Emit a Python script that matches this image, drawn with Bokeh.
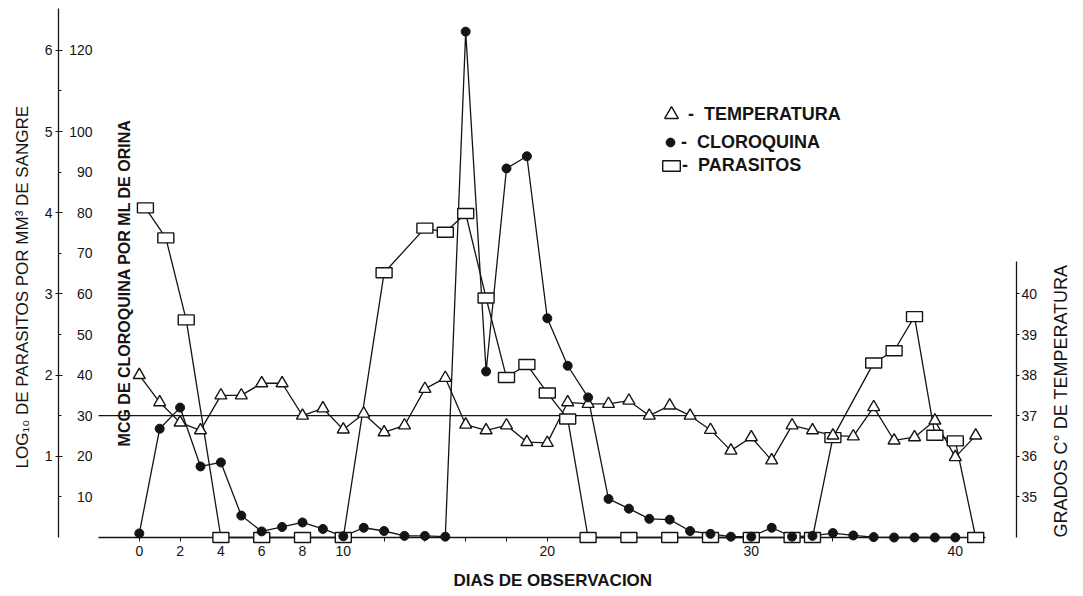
import math
from bokeh.plotting import figure
from bokeh.models import Range1d, LinearAxis, FixedTicker, Label, Legend, LegendItem
from bokeh.embed import file_html
from bokeh.resources import INLINE

# ---------------- data ----------------
temp_days = list(range(0, 42))
temperature = [38.0, 37.33, 36.83, 36.64, 37.5, 37.5, 37.8, 37.8, 37.0, 37.18,
               36.66, 37.05, 36.59, 36.76, 37.66, 37.93, 36.78, 36.64, 36.76, 36.35,
               36.33, 37.33, 37.29, 37.29, 37.37, 37.0, 37.25, 37.0, 36.65, 36.14,
               36.47, 35.9, 36.76, 36.64, 36.51, 36.49, 37.21, 36.39, 36.47, 36.88,
               35.98, 36.51]

chloro_days = list(range(0, 41))
chloroquine = [1.0, 26.8, 32.0, 17.5, 18.5, 5.4, 1.5, 2.6, 3.7, 2.1,
               0.3, 2.4, 1.6, 0.4, 0.4, 0.2, 124.6, 40.9, 90.9, 93.9,
               54.0, 42.3, 34.5, 9.5, 7.1, 4.6, 4.4, 1.6, 0.9, 0.2,
               0.2, 2.4, 0.2, 0.4, 1.1, 0.5, 0.1, 0.0, 0.0, 0.0, 0.0]

par_days = [0.3, 1.3, 2.3, 4, 6, 8, 10, 12, 14, 15, 16, 17, 18, 19, 20, 21, 22,
            24, 26, 28, 30, 32, 33, 34, 36, 37, 38, 39, 40, 41]
parasites_log = [4.06, 3.69, 2.68, 0, 0, 0, 0, 3.26, 3.81, 3.76, 3.99, 2.95, 1.97,
                 2.13, 1.78, 1.46, 0, 0, 0, 0, 0, 0, 0, 1.23, 2.15, 2.30, 2.72,
                 1.26, 1.19, 0]

x_ticks_labeled = [0, 2, 4, 6, 8, 10, 20, 30, 40]
x_ticks_minor = [12, 14, 16, 18, 22, 24, 26, 28, 32, 34, 36, 38]
chloro_ticks = [10, 20, 30, 40, 50, 60, 70, 80, 90, 100, 120]
log_ticks = [1, 2, 3, 4, 5, 6]
log_minor_ticks = [0.5, 1.5, 2.5, 3.5, 4.5, 5.5]
temp_ticks = [35, 36, 37, 38, 39, 40]
normal_temp = 37

# ---------------- scales ----------------
CHLORO_MAX = 130.3          # top of the frame in µg/ml
CHLORO_PER_LOG = 20.0        # 1 log10 unit == 20 µg/ml on the drawing
CHLORO_PER_DEG = 10.0        # 1 °C == 10 µg/ml, 34 °C at the base line
TEMP_BASE = 34.0
X_START, X_END = -2.0, 43.0
AXIS_END = 41.5
REF_END = 41.8

FONT = "Liberation Sans"
INK = "#141414"

p = figure(frame_width=918, frame_height=529,
           x_range=Range1d(X_START, X_END), y_range=Range1d(0, CHLORO_MAX),
           x_axis_type=None, y_axis_type=None,
           output_backend="svg", toolbar_location=None,
           min_border_left=89, min_border_right=60, min_border_top=8, min_border_bottom=50,
           background_fill_color="white", border_fill_color="white")
p.outline_line_color = None
p.xgrid.visible = False
p.ygrid.visible = False
p.extra_y_ranges = {
    "log": Range1d(0, CHLORO_MAX / CHLORO_PER_LOG),
    "temp": Range1d(TEMP_BASE, TEMP_BASE + CHLORO_MAX / CHLORO_PER_DEG),
}

def style_axis(ax, size="14px"):
    ax.major_label_text_font = FONT
    ax.major_label_text_font_size = size
    ax.major_label_text_color = INK
    ax.axis_label_text_font = FONT
    ax.axis_label_text_color = INK
    ax.axis_line_color = INK
    ax.major_tick_line_color = INK
    ax.minor_tick_line_color = INK
    ax.axis_line_width = 1.3

def blank_ticks(ax):
    ax.axis_line_color = None
    ax.major_tick_line_color = None
    ax.minor_tick_line_color = None
    ax.major_tick_in = 0
    ax.major_tick_out = 0
    ax.minor_tick_in = 0
    ax.minor_tick_out = 0

# inner left axis: chloroquine labels only
ax_chl = LinearAxis(ticker=FixedTicker(ticks=chloro_ticks))
style_axis(ax_chl)
blank_ticks(ax_chl)
ax_chl.major_label_standoff = 6
ax_chl.axis_label = " "
ax_chl.axis_label_text_font_size = "2px"
ax_chl.axis_label_standoff = 2
p.add_layout(ax_chl, "left")

# outer left axis: log10 parasites, carries the axis line
ax_log = LinearAxis(y_range_name="log",
                    ticker=FixedTicker(ticks=log_ticks, minor_ticks=log_minor_ticks))
style_axis(ax_log)
ax_log.major_tick_in = 4
ax_log.major_tick_out = 3
ax_log.minor_tick_in = 3
ax_log.minor_tick_out = 0
ax_log.major_label_standoff = 3
ax_log.axis_label = "LOG\u2081\u2080  DE  PARASITOS  POR  MM\u00b3  DE  SANGRE"
ax_log.axis_label_text_font_size = "17px"
ax_log.axis_label_text_font_style = "normal"
ax_log.axis_label_standoff = 10
p.add_layout(ax_log, "left")

# outermost spacer (page margin left of the title)
ax_pad = LinearAxis(ticker=FixedTicker(ticks=[]))
blank_ticks(ax_pad)
ax_pad.axis_label = " "
ax_pad.axis_label_text_font_size = "3px"
ax_pad.axis_label_standoff = 3
p.add_layout(ax_pad, "left")

# right axis: temperature
ax_t = LinearAxis(y_range_name="temp", ticker=FixedTicker(ticks=temp_ticks),
                  bounds=(TEMP_BASE, 40.8))
style_axis(ax_t)
ax_t.major_tick_in = 0
ax_t.major_tick_out = 3
ax_t.minor_tick_line_color = None
ax_t.major_label_standoff = 2
ax_t.axis_label = "GRADOS  C\u00b0  DE  TEMPERATURA"
ax_t.axis_label_text_font_size = "18px"
ax_t.axis_label_text_font_style = "normal"
ax_t.axis_label_standoff = 21
ax_t.axis_label_orientation = math.pi / 2
ax_t.axis_label_align = "start"
p.add_layout(ax_t, "right")

# bottom axis: days
ax_x = LinearAxis(ticker=FixedTicker(ticks=x_ticks_labeled, minor_ticks=x_ticks_minor),
                  bounds=(X_START, AXIS_END))
style_axis(ax_x)
ax_x.major_tick_in = 0
ax_x.major_tick_out = 4
ax_x.minor_tick_in = 0
ax_x.minor_tick_out = 4
ax_x.major_label_standoff = 4
ax_x.axis_label = "DIAS  DE  OBSERVACION"
ax_x.axis_label_text_font_size = "17px"
ax_x.axis_label_text_font_style = "bold"
ax_x.axis_label_standoff = 12
p.add_layout(ax_x, "below")

# 37 °C reference line
p.segment(x0=[X_START], y0=[normal_temp], x1=[REF_END], y1=[normal_temp],
          y_range_name="temp", line_color=INK, line_width=1.2, level="overlay")

# series
p.line(temp_days, temperature, y_range_name="temp", line_color=INK, line_width=1.3, level="overlay")
p.line(chloro_days, chloroquine, line_color=INK, line_width=1.3, level="overlay")
p.line(par_days, parasites_log, y_range_name="log", line_color=INK, line_width=1.3, level="overlay")

r_par = p.rect(par_days, parasites_log, width=16, height=10, width_units="screen",
               height_units="screen", y_range_name="log", fill_color="white",
               line_color=INK, line_width=1.4, level="overlay")
r_tmp = p.scatter(temp_days, temperature, y_range_name="temp", marker="triangle", size=12,
                  fill_color="white", line_color=INK, line_width=1.4, level="overlay")
r_chl = p.scatter(chloro_days, chloroquine, marker="circle", size=9,
                  fill_color=INK, line_color=INK, level="overlay")

# inner title for the chloroquine scale
p.add_layout(Label(x=-0.75, y=66, text="MCG  DE  CLOROQUINA  POR  ML  DE  ORINA",
                   angle=math.pi / 2, text_align="center", text_baseline="middle",
                   text_font=FONT, text_font_size="16px", text_font_style="bold",
                   text_color=INK))

def legend(label, rend, loc, gw, gh, standoff):
    lg = Legend(items=[LegendItem(label=label, renderers=[rend])], location=loc,
                glyph_width=gw, glyph_height=gh, label_height=gh, label_standoff=standoff,
                padding=0, margin=0, spacing=0, border_line_color=None,
                background_fill_alpha=0, label_text_font=FONT,
                label_text_font_size="18px", label_text_font_style="bold",
                label_text_color=INK)
    p.add_layout(lg)

legend("-  TEMPERATURA", r_tmp, (556, 406), 34, 34, -18)
legend("-  CLOROQUINA", r_chl, (561, 384), 22, 22, -12)
legend("-  PARASITOS", r_par, (562, 361), 22, 13, -4)

open("out.html", "w").write(file_html(p, INLINE))
